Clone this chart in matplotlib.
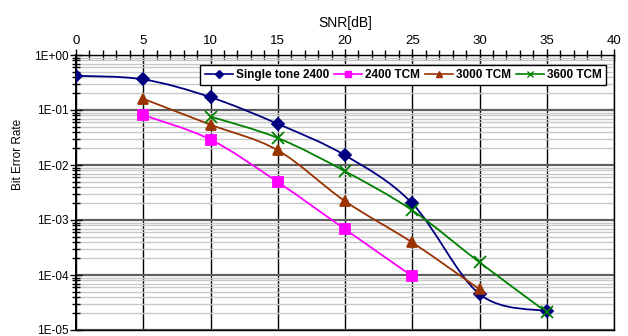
import numpy as np
import matplotlib
matplotlib.use('Agg')
import matplotlib.pyplot as plt
from matplotlib.path import Path
from matplotlib.patches import PathPatch
from matplotlib.lines import Line2D
from matplotlib.ticker import LogLocator, MultipleLocator, FixedLocator, NullFormatter

plt.rcParams['font.family'] = ['Liberation Sans', 'DejaVu Sans']

# data
snr_single = [0, 5, 10, 15, 20, 25, 30, 35]
ber_single = [0.42, 0.36, 0.171, 0.056, 0.015, 0.0020, 4.5e-5, 2.2e-5]

snr_2400 = [5, 10, 15, 20, 25]
ber_2400 = [0.081, 0.029, 0.0049, 6.8e-4, 9.5e-5]

snr_3000 = [5, 10, 15, 20, 25, 30]
ber_3000 = [0.16, 0.054, 0.0185, 0.0022, 3.9e-4, 5.5e-5]

snr_3600 = [10, 15, 20, 25, 30, 35]
ber_3600 = [0.076, 0.031, 0.0077, 0.0015, 1.7e-4, 2.1e-5]

labels = ['Single tone 2400', '2400 TCM', '3000 TCM', '3600 TCM']
colors = ['#000080', '#ff00ff', '#993300', '#008000']
markers = ['D', 's', '^', 'x']
msizes = [6.5, 7, 7, 8]
y_ticklabels = ['1E-05', '1E-04', '1E-03', '1E-02', '1E-01', '1E+00']


def smooth_path(xs, ys):
    # excel-style smoothed line: bezier segments, built in log space
    x = np.asarray(xs, float)
    ly = np.log10(np.asarray(ys, float))
    n = len(x)
    verts = [(x[0], ly[0])]
    codes = [Path.MOVETO]
    for i in range(n - 1):
        p0 = np.array([x[max(i - 1, 0)], ly[max(i - 1, 0)]])
        p1 = np.array([x[i], ly[i]])
        p2 = np.array([x[i + 1], ly[i + 1]])
        p3 = np.array([x[min(i + 2, n - 1)], ly[min(i + 2, n - 1)]])
        c1 = p1 + (p2 - p0) / 6
        c2 = p2 - (p3 - p1) / 6
        verts += [tuple(c1), tuple(c2), tuple(p2)]
        codes += [Path.CURVE4] * 3
    verts = [(vx, 10 ** vy) for vx, vy in verts]
    return Path(verts, codes)


fig = plt.figure(figsize=(6.28, 3.36), dpi=100)
ax = fig.add_axes([76 / 628, 1 - 330 / 336, 538 / 628, 275 / 336])

ax.set_yscale('log')
ax.set_xlim(0, 40)
ax.set_ylim(1e-5, 1)

ax.xaxis.tick_top()
ax.xaxis.set_label_position('top')
ax.xaxis.set_major_locator(MultipleLocator(5))
ax.xaxis.set_minor_locator(MultipleLocator(1))
ax.yaxis.set_major_locator(FixedLocator([1e-5, 1e-4, 1e-3, 1e-2, 1e-1, 1]))
ax.yaxis.set_minor_locator(LogLocator(base=10, subs=np.arange(2, 10), numticks=20))
ax.set_yticklabels(y_ticklabels)
ax.yaxis.set_minor_formatter(NullFormatter())

ax.tick_params(axis='x', which='major', direction='inout', length=9, width=1,
               labelsize=9.5, pad=1)
ax.tick_params(axis='x', which='minor', direction='inout', length=7, width=1)
ax.tick_params(axis='y', which='major', direction='inout', length=9, width=1,
               labelsize=8.5, pad=1)
ax.tick_params(axis='y', which='minor', direction='inout', length=6, width=1)

ax.grid(True, axis='y', which='major', color='#606060', lw=1.6, zorder=0)
ax.grid(True, axis='y', which='minor', color='#c8c8c8', lw=1.0, zorder=0)
ax.grid(True, axis='x', which='major', color='black', lw=1.0, zorder=0)
ax.set_axisbelow(True)

for s in ax.spines.values():
    s.set_color('black')
    s.set_linewidth(1.0)
ax.spines['left'].set_linewidth(1.4)

ax.set_xlabel('SNR[dB]', fontsize=10, labelpad=6)
ax.set_ylabel('Bit Error Rate', fontsize=8.5)
ax.yaxis.set_label_coords(-0.097, 0.638)

series = [(snr_single, ber_single), (snr_2400, ber_2400),
          (snr_3000, ber_3000), (snr_3600, ber_3600)]
for (xs, ys), c, m, ms in zip(series, colors, markers, msizes):
    ax.add_patch(PathPatch(smooth_path(xs, ys), fill=False, edgecolor=c,
                           lw=1.3, zorder=3))
    ax.plot(xs, ys, ls='none', marker=m, color=c, ms=ms, mew=1.3, zorder=4)

handles = [Line2D([], [], color=c, marker=m, lw=1.2, ms=4.5, mew=1)
           for c, m in zip(colors, markers)]
leg = ax.legend(handles, labels, loc='upper right', bbox_to_anchor=(0.985, 0.964),
                ncol=4, fancybox=False, framealpha=1, edgecolor='black',
                borderaxespad=0, handlelength=2.4, handletextpad=0.25,
                columnspacing=0.4, borderpad=0.35,
                prop={'weight': 'bold', 'size': 8.5})
leg.get_frame().set_linewidth(1.0)
leg.set_zorder(5)

fig.savefig('out.png', dpi=100)
